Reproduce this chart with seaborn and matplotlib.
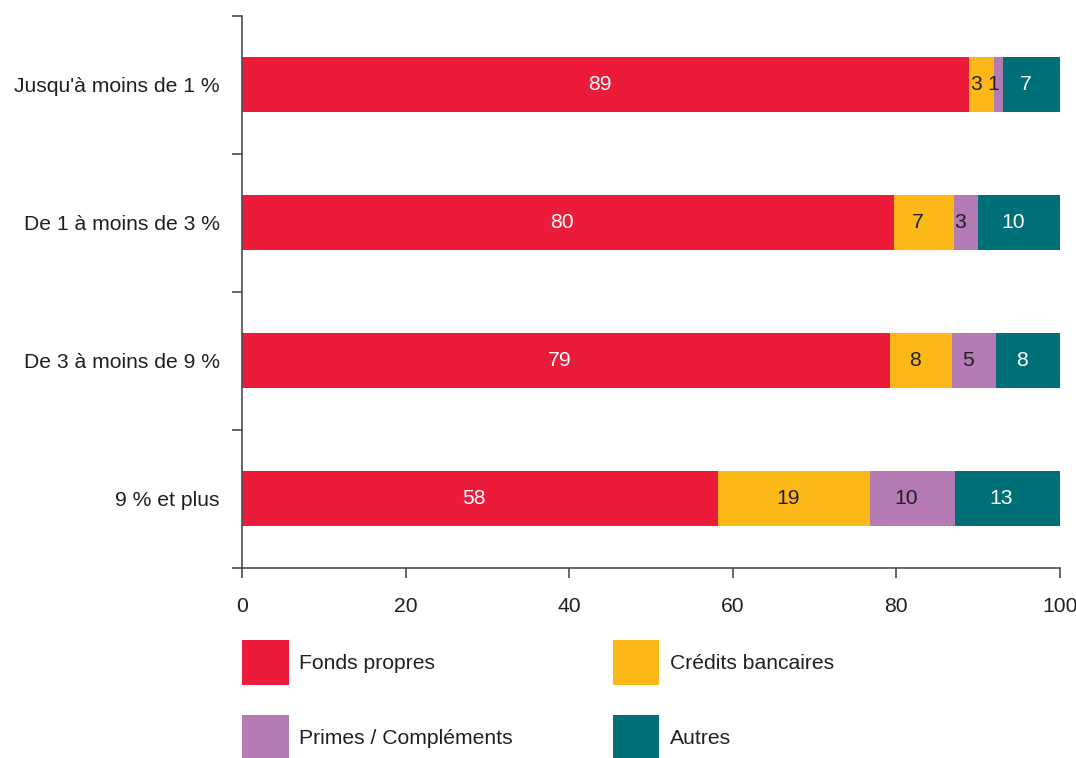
import numpy as np
import pandas as pd
import matplotlib
matplotlib.use("Agg")
import matplotlib.pyplot as plt
import matplotlib.transforms as mtransforms
from matplotlib.patches import Patch
import seaborn as sns

# Data (shares in %)
categories = ["Jusqu'à moins de 1 %", "De 1 à moins de 3 %", "De 3 à moins de 9 %", "9 % et plus"]
series_names = ["Fonds propres", "Crédits bancaires", "Primes / Compléments", "Autres"]
fonds_propres = [88.9, 79.7, 79.2, 58.2]
credits_bancaires = [3.1, 7.4, 7.6, 18.6]
primes = [1.1, 2.9, 5.4, 10.4]
autres = [6.9, 10.0, 7.8, 12.8]
x_ticks = [0, 20, 40, 60, 80, 100]

colors = ["#ED1B3A", "#FBB817", "#B37AB4", "#007078"]
label_colors = ["white", "#231f20", "#231f20", "white"]
text_color = "#231f20"
axis_color = "#4d4d4d"

sns.set_theme(style="white")
plt.rcParams["font.family"] = ["Liberation Sans", "DejaVu Sans"]
FS = 15.2

df = pd.DataFrame({"categorie": categories,
                   series_names[0]: fonds_propres,
                   series_names[1]: credits_bancaires,
                   series_names[2]: primes,
                   series_names[3]: autres})
cum = df[series_names].cumsum(axis=1)

fig = plt.figure(figsize=(10.76, 7.58), dpi=100)
ax = fig.add_axes([0.225, 0.251, 0.760, 0.728])

# Stacked bars: draw cumulative totals from the last series down to the first
for name, color in reversed(list(zip(series_names, colors))):
    sns.barplot(x=cum[name], y=df["categorie"], orient="h", color=color,
                width=0.4, saturation=1, ax=ax, linewidth=0)

# Segment labels at the middle of each segment
shift = mtransforms.offset_copy(ax.transData, fig=fig, x=-6, y=0, units="dots")
for i in range(len(categories)):
    for name, lc in zip(series_names, label_colors):
        v = df.loc[i, name]
        mid = cum.loc[i, name] - v / 2
        ax.text(mid, i, f"{v:.0f}", ha="center", va="center", color=lc,
                fontsize=FS, transform=shift)

ax.set_xlim(0, 100)
ax.set_ylim(len(categories) - 0.5, -0.5)
ax.set_xticks(x_ticks)
ax.set_xticklabels([str(t) for t in x_ticks], fontsize=FS, color=text_color)

# Ticks at category boundaries, labels at category centres
ax.set_yticks(np.arange(-0.5, len(categories), 1.0))
ax.set_yticklabels([])
ax.set_yticks(range(len(categories)), minor=True)
ax.set_yticklabels(categories, minor=True, fontsize=FS, color=text_color)
ax.tick_params(axis="y", which="minor", length=0, pad=16)
ax.tick_params(axis="y", which="major", direction="out", length=7, width=1.2, color=axis_color, left=True)
ax.tick_params(axis="x", direction="out", length=7, width=1.2, color=axis_color, pad=14, bottom=True)
ax.set_xlabel("")
ax.set_ylabel("")

sns.despine(ax=ax)
for side in ["left", "bottom"]:
    ax.spines[side].set_color(axis_color)
    ax.spines[side].set_linewidth(1.2)

# Legend laid out row by row (matplotlib fills columns first)
order = [0, 2, 1, 3]
handles = [Patch(facecolor=colors[k], edgecolor="none", label=series_names[k]) for k in order]
leg = fig.legend(handles=handles, loc="upper left", bbox_to_anchor=(0.225, 0.156),
                 ncol=2, frameon=False, fontsize=FS, handlelength=2.2, handleheight=2.95,
                 handletextpad=0.5, columnspacing=4.75, labelspacing=1.4, borderpad=0,
                 borderaxespad=0)
for t in leg.get_texts():
    t.set_color(text_color)

fig.savefig("out.png", dpi=100)
